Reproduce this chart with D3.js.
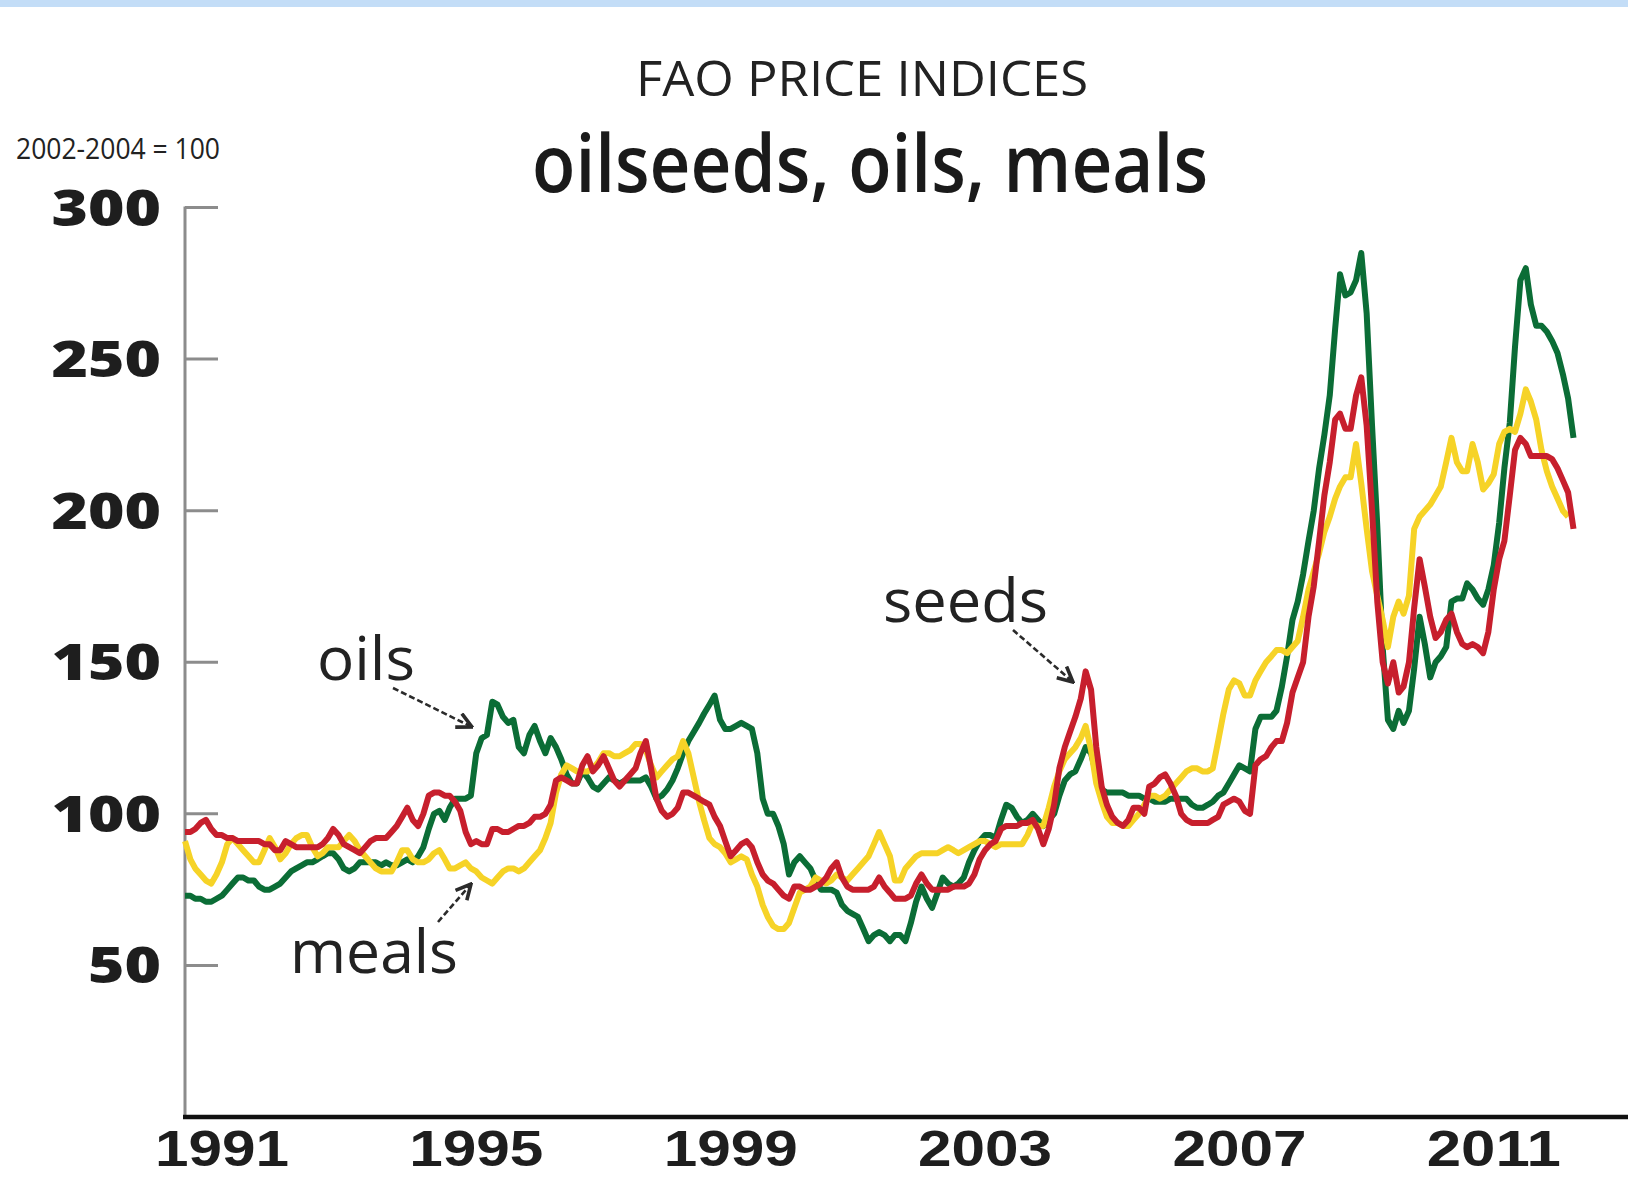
<!DOCTYPE html>
<meta charset="utf-8">
<style>
  body { margin: 0; background: #fff; }
  svg { display: block; font-family: "Open Sans", "Noto Sans", sans-serif; }
</style>
<div id="chart"></div>
<script src="https://d3js.org/d3.v7.min.js"></script>
<script>
// monthly index values, first value = January 1991
var startYear = 1991;

var oils = [73,73,72,72,71,71,72,73,75,77,79,79,78,78,76,75,75,76,77,79,
  81,82,83,84,84,85,86,87,87,85,82,81,82,84,84,84,84,83,84,83,
  83,84,85,84,86,89,95,100,101,98,102,105,105,105,106,120,125,126,137,136,
  132,130,131,122,120,126,129,124,120,125,122,118,113,110,110,114,112,109,108,110,
  112,111,110,111,111,111,111,112,109,105,106,108,111,115,120,124,127,130,133,136,
  139,131,128,128,129,130,129,128,120,105,100,100,96,90,80,84,86,84,82,78,
  75,75,75,74,70,68,67,66,62,58,60,61,60,58,60,60,58,64,71,76,
  72,69,74,79,77,76,77,79,84,88,91,93,93,92,98,103,102,99,97,98,
  100,98,96,98,100,106,111,113,114,118,122,120,113,108,107,107,107,107,106,106,
  106,105,105,104,104,104,105,105,105,105,103,102,102,103,104,106,107,110,113,116,
  115,114,128,132,132,132,134,142,152,164,170,179,190,200,214,225,238,260,278,271,
  272,276,285,265,228,195,155,131,128,134,130,134,148,165,156,145,150,152,155,170,
  171,171,176,174,171,169,174,182,196,214,229,254,276,280,268,261,261,259,256,252,
  245,237,224];

var oilseeds = [94,94,95,97,98,95,93,93,92,92,91,91,91,91,91,90,90,88,88,91,
  90,89,89,89,89,89,90,92,95,93,90,89,88,87,89,91,92,92,92,94,
  96,99,102,98,96,100,106,107,107,106,106,104,101,94,90,91,90,90,95,95,
  94,94,95,96,96,97,99,99,100,103,111,112,111,110,110,116,119,114,116,119,
  115,111,109,111,113,115,120,124,115,105,101,99,100,102,107,107,106,105,104,103,
  99,96,91,86,88,90,91,89,84,80,78,77,75,73,72,76,76,75,75,76,
  77,79,82,84,79,76,75,75,75,75,76,79,76,74,72,72,72,73,77,80,
  77,75,75,75,75,76,76,76,77,80,85,88,90,91,95,96,96,96,97,97,
  98,95,90,95,103,115,122,127,132,138,147,141,122,109,103,99,97,96,98,102,
  102,100,109,110,112,113,110,106,100,98,97,97,97,97,98,99,103,104,105,104,
  101,100,116,118,119,122,124,124,130,140,145,150,165,175,190,205,216,230,232,227,
  227,238,244,228,200,170,150,143,150,140,142,150,168,184,175,165,158,160,164,166,
  160,156,155,156,155,153,160,174,184,190,205,220,224,222,218,218,218,218,217,214,
  210,206,194];

var meals = [91,85,82,80,78,77,80,84,90,92,90,88,86,84,84,88,92,89,85,87,
  90,92,93,93,89,86,87,89,89,89,91,93,91,88,86,84,82,81,81,81,
  84,88,88,85,84,84,85,87,88,85,82,82,83,84,82,81,79,78,77,79,
  81,82,82,81,82,84,86,88,92,97,107,113,116,115,114,114,114,115,117,120,
  120,119,119,120,121,123,123,121,116,112,114,116,118,119,124,120,112,104,98,92,
  90,89,87,84,85,86,85,80,76,70,66,63,62,62,64,69,74,75,76,79,
  78,77,78,80,79,78,80,82,84,86,90,94,90,86,78,78,82,84,86,87,
  87,87,87,88,89,88,87,88,89,90,91,91,90,89,90,90,90,90,90,93,
  97,96,96,102,109,114,118,120,122,125,129,121,110,104,99,97,97,96,96,98,
  100,103,106,106,105,106,108,110,112,114,115,115,114,114,115,124,133,141,144,143,
  139,139,144,147,150,152,154,154,153,155,157,165,174,180,186,193,198,204,208,211,
  211,222,209,194,180,172,164,155,165,170,166,172,194,198,200,202,205,208,216,224,
  216,213,213,222,216,207,209,212,222,226,227,226,232,240,236,230,220,213,208,204,
  200,198];

var yTicks = [50, 100, 150, 200, 250, 300];
var yearLabels = [1991, 1995, 1999, 2003, 2007, 2011];

var series = [
  { name: "oils", values: oils, color: "#0b6d36" },
  { name: "meals", values: meals, color: "#f6d327" },
  { name: "oilseeds", values: oilseeds, color: "#c71f2d" }
];

var W = 1628, H = 1179;

var svg = d3.select("#chart").append("svg")
    .attr("width", W)
    .attr("height", H);

svg.append("rect").attr("x", 0).attr("y", 0).attr("width", W).attr("height", 7)
    .attr("fill", "#c3ddf7");

var x = d3.scaleTime()
    .domain([new Date(1991, 0, 1), new Date(2013, 8, 10)])
    .range([185, W]);

var y = d3.scaleLinear()
    .domain([0, 300])
    .range([1117, 207.5]);

function monthDate(i) { return d3.timeMonth.offset(new Date(startYear, 0, 1), i); }

// axes
svg.append("line")
    .attr("x1", x.range()[0]).attr("x2", x.range()[0])
    .attr("y1", y(300) - 1).attr("y2", y(0))
    .attr("stroke", "#8c8c8c").attr("stroke-width", 3);

var yAxis = svg.append("g");
yAxis.selectAll("line").data(yTicks).enter().append("line")
    .attr("x1", 185).attr("x2", 218)
    .attr("y1", function(d) { return y(d); })
    .attr("y2", function(d) { return y(d); })
    .attr("stroke", "#8c8c8c").attr("stroke-width", 3);
yAxis.selectAll("text").data(yTicks).enter().append("text")
    .attr("x", 161)
    .attr("y", function(d) { return y(d); })
    .attr("dy", "0.36em")
    .attr("text-anchor", "end")
    .attr("font-size", 50)
    .attr("font-weight", 800)
    .attr("fill", "#1e1e1e")
    .attr("textLength", function(d) { return String(d).length * 36.5; })
    .attr("lengthAdjust", "spacingAndGlyphs")
    .text(function(d) { return d; });

svg.append("line")
    .attr("x1", 183).attr("x2", W)
    .attr("y1", y(0)).attr("y2", y(0))
    .attr("stroke", "#111").attr("stroke-width", 4.5);

svg.append("g").selectAll("text").data(yearLabels).enter().append("text")
    .attr("x", function(d) { return x(new Date(d, 7, 1)); })
    .attr("y", 1166)
    .attr("text-anchor", "middle")
    .attr("font-family", "'Liberation Sans', Arial, sans-serif")
    .attr("font-size", 50)
    .attr("font-weight", 700)
    .attr("fill", "#1e1e1e")
    .attr("textLength", 134)
    .attr("lengthAdjust", "spacingAndGlyphs")
    .text(function(d) { return d; });

// lines
var line = d3.line()
    .x(function(d, i) { return x(monthDate(i)); })
    .y(function(d) { return y(d); });

svg.append("g").selectAll("path").data(series).enter().append("path")
    .attr("d", function(s) { return line(s.values); })
    .attr("fill", "none")
    .attr("stroke", function(s) { return s.color; })
    .attr("stroke-width", 6)
    .attr("stroke-linejoin", "round");

// titles
svg.append("text")
    .attr("x", 862).attr("y", 96)
    .attr("text-anchor", "middle")
    .attr("font-size", 50)
    .attr("fill", "#222")
    .attr("textLength", 452)
    .attr("lengthAdjust", "spacingAndGlyphs")
    .text("FAO PRICE INDICES");

svg.append("text")
    .attr("x", 870).attr("y", 192)
    .attr("text-anchor", "middle")
    .attr("font-size", 79)
    .attr("font-weight", 600)
    .attr("fill", "#1a1a1a")
    .attr("textLength", 676)
    .attr("lengthAdjust", "spacingAndGlyphs")
    .text("oilseeds, oils, meals");

svg.append("text")
    .attr("x", 16).attr("y", 159)
    .attr("font-size", 29)
    .attr("fill", "#222")
    .attr("textLength", 204)
    .attr("lengthAdjust", "spacingAndGlyphs")
    .text("2002-2004 = 100");

// annotations
var notes = [
  { text: "oils", x: 317, y: 680, w: 98, from: [393, 688], to: [472, 727] },
  { text: "meals", x: 290, y: 973, w: 168, from: [438, 922], to: [471, 884] },
  { text: "seeds", x: 883, y: 622, w: 165, from: [1013, 630], to: [1073, 682] }
];

svg.append("defs").append("marker")
    .attr("id", "head")
    .attr("viewBox", "0 0 12 12")
    .attr("refX", 11).attr("refY", 6)
    .attr("markerWidth", 18).attr("markerHeight", 18)
    .attr("markerUnits", "userSpaceOnUse")
    .attr("orient", "auto")
  .append("path")
    .attr("d", "M1,1 L11,6 L1,11")
    .attr("fill", "none")
    .attr("stroke", "#2b2b2b")
    .attr("stroke-width", 2.4);

var ann = svg.append("g");
ann.selectAll("text").data(notes).enter().append("text")
    .attr("x", function(d) { return d.x; })
    .attr("y", function(d) { return d.y; })
    .attr("font-size", 60)
    .attr("fill", "#222")
    .attr("textLength", function(d) { return d.w; })
    .attr("lengthAdjust", "spacingAndGlyphs")
    .text(function(d) { return d.text; });
ann.selectAll("line").data(notes).enter().append("line")
    .attr("x1", function(d) { return d.from[0]; })
    .attr("y1", function(d) { return d.from[1]; })
    .attr("x2", function(d) { return d.to[0]; })
    .attr("y2", function(d) { return d.to[1]; })
    .attr("stroke", "#2b2b2b")
    .attr("stroke-width", 2.6)
    .attr("stroke-dasharray", "6,3")
    .attr("marker-end", "url(#head)");
</script>
